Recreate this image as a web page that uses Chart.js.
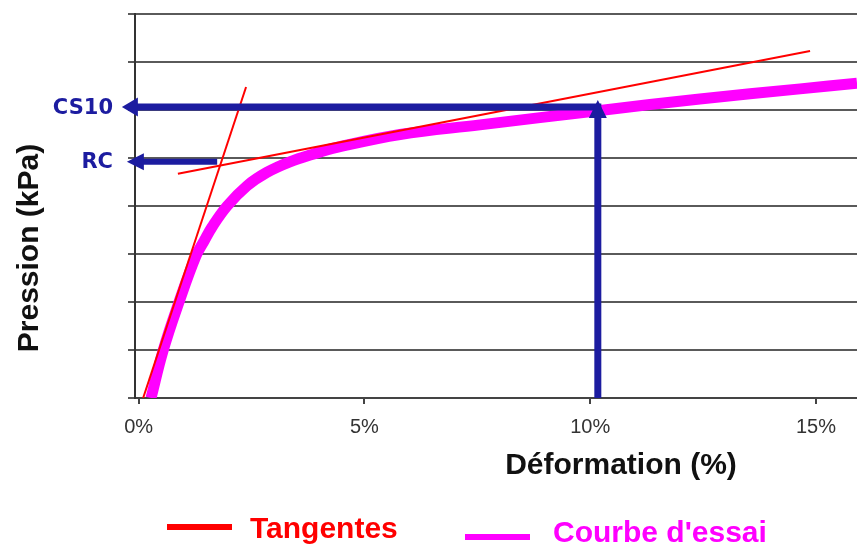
<!DOCTYPE html>
<html>
<head>
<meta charset="utf-8">
<script src="https://cdn.jsdelivr.net/npm/chart.js@4.4.1/dist/chart.umd.min.js"></script>
<style>
  html, body { margin: 0; padding: 0; background: #fff; }
</style>
</head>
<body>
<canvas id="chart" width="857" height="548"></canvas>
<script>
// x ticks (%)
const strainTicks = [0, 5, 10, 15];

// test curve
const curveStrain = [0.275, 0.54, 0.895, 1.27, 1.45, 1.625, 1.96, 2.40, 2.84, 3.35, 3.86, 4.39, 5.79, 7.56, 10.22, 12.43, 14.65, 15.91];
const curvePressure = [0, 0.98, 2.0, 2.96, 3.27, 3.56, 4.0, 4.42, 4.70, 4.92, 5.08, 5.22, 5.49, 5.69, 5.99, 6.23, 6.44, 6.56];

// tangents
const tangent1Strain = [0.10, 2.38];
const tangent1Pressure = [0, 6.48];
const tangent2Strain = [0.87, 14.87];
const tangent2Pressure = [4.67, 7.23];

// blue arrows
const arrowLabels = ['CS10', 'RC'];
const arrowLevels = [6.06, 4.92];
const arrowStarts = [10.17, 1.74];
const arrowEnds = [-0.37, -0.26];
const riseStrain = 10.17;
const riseTop = 6.21;

const legendLabels = ['Tangentes', "Courbe d'essai"];

function points(xs, ys) {
    return xs.map((v, i) => ({ x: v, y: ys[i] }));
}

const blue = '#1c1ca0';

function arrowHead(ctx, tipX, tipY, dx, dy, len, half) {
    // dx,dy = direction the arrow points to
    const bx = tipX - dx * len, by = tipY - dy * len;
    ctx.beginPath();
    ctx.moveTo(tipX, tipY);
    ctx.lineTo(bx - dy * half, by + dx * half);
    ctx.lineTo(bx + dy * half, by - dx * half);
    ctx.closePath();
    ctx.fill();
}

const overlay = {
    id: 'overlay',
    afterDatasetsDraw(chart) {
        const { ctx, scales: { x, y }, chartArea } = chart;
        ctx.save();
        ctx.fillStyle = blue;
        ctx.strokeStyle = blue;

        // vertical arrow at 10%
        const vx = x.getPixelForValue(riseStrain);
        const vTop = y.getPixelForValue(riseTop);
        ctx.lineWidth = 7;
        ctx.beginPath();
        ctx.moveTo(vx, y.getPixelForValue(0));
        ctx.lineTo(vx, vTop + 14);
        ctx.stroke();

        // horizontal arrows
        arrowLabels.forEach((label, i) => {
            const py = y.getPixelForValue(arrowLevels[i]);
            const x0 = x.getPixelForValue(arrowStarts[i]);
            const x1 = x.getPixelForValue(arrowEnds[i]);
            const head = i === 0 ? 16 : 17;
            const half = i === 0 ? 9.5 : 8.5;
            ctx.lineWidth = i === 0 ? 7 : 6;
            ctx.beginPath();
            ctx.moveTo(x0 + (i === 0 ? 3.5 : 0), py);
            ctx.lineTo(x1 + head - 2, py);
            ctx.stroke();
            arrowHead(ctx, x1, py, -1, 0, head, half);

            ctx.font = 'bold 21px "DejaVu Sans"';
            ctx.textAlign = 'right';
            ctx.textBaseline = 'middle';
            ctx.fillText(label, chartArea.left - 22, py + 1);
        });

        arrowHead(ctx, vx, vTop, 0, -1, 18, 9);
        ctx.restore();
    },
    afterDraw(chart) {
        const { ctx } = chart;
        ctx.save();
        // axis titles
        ctx.fillStyle = '#111';
        ctx.font = 'bold 30px "Liberation Sans"';
        ctx.textAlign = 'center';
        ctx.textBaseline = 'alphabetic';
        ctx.fillText('Déformation (%)', 621, 474);
        ctx.translate(38, 248);
        ctx.rotate(-Math.PI / 2);
        ctx.fillText('Pression (kPa)', 0, 0);
        ctx.restore();

        // legend
        ctx.save();
        const items = [
            { color: '#ff0000', x: 167, y: 527, tx: 250, ty: 538 },
            { color: '#ff00ff', x: 465, y: 537, tx: 553, ty: 542 }
        ];
        ctx.font = 'bold 30px "Liberation Sans"';
        ctx.textAlign = 'left';
        ctx.textBaseline = 'alphabetic';
        items.forEach((it, i) => {
            ctx.strokeStyle = it.color;
            ctx.lineWidth = 6;
            ctx.beginPath();
            ctx.moveTo(it.x, it.y);
            ctx.lineTo(it.x + 65, it.y);
            ctx.stroke();
            ctx.fillStyle = it.color;
            ctx.fillText(legendLabels[i], it.tx, it.ty);
        });
        ctx.restore();
    }
};

Chart.defaults.font.family = '"Liberation Sans", Arial, sans-serif';

new Chart(document.getElementById('chart'), {
    type: 'line',
    data: {
        datasets: [
            {
                label: legendLabels[1],
                data: points(curveStrain, curvePressure),
                borderColor: '#ff00ff',
                borderWidth: 11,
                pointRadius: 0,
                tension: 0.4,
                order: 2
            },
            {
                label: legendLabels[0],
                data: points(tangent1Strain, tangent1Pressure),
                borderColor: '#ff0000',
                borderWidth: 2,
                pointRadius: 0,
                order: 1
            },
            {
                label: legendLabels[0],
                data: points(tangent2Strain, tangent2Pressure),
                borderColor: '#ff0000',
                borderWidth: 2,
                pointRadius: 0,
                order: 1
            }
        ]
    },
    options: {
        responsive: false,
        animation: false,
        layout: { padding: { top: 14, right: 0, left: 0, bottom: 0 } },
        plugins: {
            legend: { display: false },
            tooltip: { enabled: false }
        },
        scales: {
            x: {
                type: 'linear',
                min: -0.08,
                max: 15.91,
                afterBuildTicks: s => { s.ticks = strainTicks.map(v => ({ value: v })); },
                afterFit: s => { s.height = 150; },
                grid: { drawOnChartArea: false, drawTicks: true, tickLength: 6, color: '#444', lineWidth: 2 },
                border: { color: '#444', width: 2 },
                ticks: {
                    callback: v => v + '%',
                    color: '#333',
                    font: { size: 20 },
                    padding: 11,
                    maxRotation: 0,
                    autoSkip: false
                }
            },
            y: {
                min: 0,
                max: 8,
                ticks: { display: false, stepSize: 1 },
                afterFit: s => { s.width = 135; },
                grid: { color: '#5a5a5a', lineWidth: 2, tickLength: 7 },
                border: { color: '#333', width: 2 }
            }
        }
    },
    plugins: [overlay]
});
</script>
</body>
</html>
